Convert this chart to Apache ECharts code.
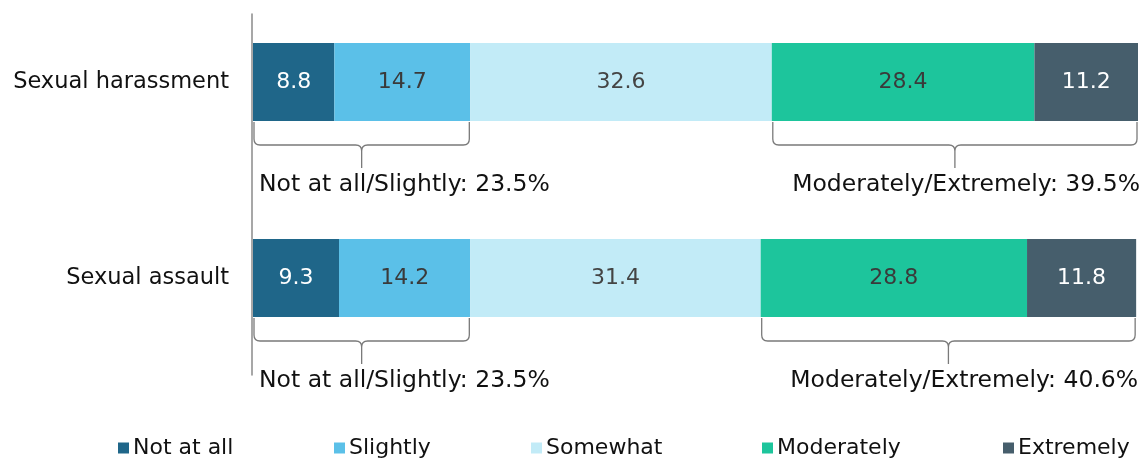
<!DOCTYPE html>
<html>
<head>
<meta charset="utf-8">
<title>Sexual harassment / assault</title>
<script src="https://cdn.jsdelivr.net/npm/echarts@6/dist/echarts.min.js"></script>
<style>
  html, body { margin: 0; padding: 0; background: #fff; }
  #chart { width: 1143px; height: 459px; }
</style>
</head>
<body>
<div id="chart"></div>
<script>
// data
var categories = ['Sexual harassment', 'Sexual assault'];
var seriesNames = ['Not at all', 'Slightly', 'Somewhat', 'Moderately', 'Extremely'];
var notAtAll = [8.8, 9.3];
var slightly = [14.7, 14.2];
var somewhat = [32.6, 31.4];
var moderately = [28.4, 28.8];
var extremely = [11.2, 11.8];
var lowTotals = ['23.5%', '23.5%'];
var highTotals = ['39.5%', '40.6%'];

var values = [notAtAll, slightly, somewhat, moderately, extremely];
var colors = ['#1f6689', '#5bc0e8', '#c2ebf7', '#1dc59c', '#465e6c'];
var labelColors = ['#ffffff', '#3a3a3a', '#444444', '#3a3a3a', '#ffffff'];
var FONT = '"DejaVu Sans", sans-serif';

// braces: [category index, start, end]
var braces = [];
var braceText = [];
var braceSide = [];
categories.forEach(function (c, i) {
  var low = notAtAll[i] + slightly[i];
  var high = low + somewhat[i];
  var total = high + moderately[i] + extremely[i];
  braces.push([i, 0, low]);
  braceText.push('Not at all/Slightly: ' + lowTotals[i]);
  braceSide.push('left');
  braces.push([i, high, total]);
  braceText.push('Moderately/Extremely: ' + highTotals[i]);
  braceSide.push('right');
});

var chart = echarts.init(document.getElementById('chart'));

var barSeries = seriesNames.map(function (name, k) {
  return {
    name: name,
    type: 'bar',
    stack: 'all',
    barWidth: 78,
    xAxisIndex: 0,
    yAxisIndex: 0,
    itemStyle: { color: colors[k] },
    label: {
      show: true,
      position: 'inside',
      color: labelColors[k],
      fontFamily: FONT,
      fontSize: 22,
      formatter: function (p) { return p.value.toFixed(1); }
    },
    data: values[k]
  };
});

var braceSeries = {
  type: 'custom',
  xAxisIndex: 0,
  yAxisIndex: 0,
  silent: true,
  clip: false,
  renderItem: function (params, api) {
    var i = params.dataIndex;
    var cat = api.value(0);
    var a = api.coord([api.value(1), cat]);
    var b = api.coord([api.value(2), cat]);
    var x0 = a[0] + 1, x1 = b[0] - 1;
    var yb = a[1] + 40;
    var yH = yb + 23, yTip = yb + 46, r = 6;
    var xm = (x0 + x1) / 2;
    var d = 'M' + x0 + ',' + yb +
      ' L' + x0 + ',' + (yH - r) +
      ' Q' + x0 + ',' + yH + ' ' + (x0 + r) + ',' + yH +
      ' L' + (xm - r) + ',' + yH +
      ' Q' + xm + ',' + yH + ' ' + xm + ',' + (yH + r) +
      ' L' + xm + ',' + yTip +
      ' M' + xm + ',' + (yH + r) +
      ' Q' + xm + ',' + yH + ' ' + (xm + r) + ',' + yH +
      ' L' + (x1 - r) + ',' + yH +
      ' Q' + x1 + ',' + yH + ' ' + x1 + ',' + (yH - r) +
      ' L' + x1 + ',' + yb;
    var left = braceSide[i] === 'left';
    return {
      type: 'group',
      children: [
        {
          type: 'path',
          shape: { pathData: d },
          style: { fill: null, stroke: '#7a7a7a', lineWidth: 1.3 }
        },
        {
          type: 'text',
          style: {
            text: braceText[i],
            x: left ? x0 + 5 : x1 + 3,
            y: yb + 63,
            align: left ? 'left' : 'right',
            verticalAlign: 'middle',
            font: '23.5px ' + FONT,
            fill: '#111111'
          }
        }
      ]
    };
  },
  data: braces
};

// one legend per entry so the spacing matches the reference
var legendLefts = [113, 329, 526, 757, 998];
var legends = seriesNames.map(function (name, k) {
  return {
    data: [name],
    left: legendLefts[k],
    top: 432,
    icon: 'rect',
    itemWidth: 11,
    itemHeight: 11,
    itemGap: 4,
    textStyle: { fontFamily: FONT, fontSize: 22, color: '#111111', padding: [0, 0, 0, -1] }
  };
});

chart.setOption({
  animation: false,
  backgroundColor: '#ffffff',
  grid: [
    { left: 253, right: 5, top: 82, bottom: 181 },
    { left: 252, right: 5, top: 14, bottom: 84 }
  ],
  legend: legends,
  xAxis: [
    { type: 'value', gridIndex: 0, min: 0, max: 95.7, show: false },
    { type: 'value', gridIndex: 1, min: 0, max: 1, show: false }
  ],
  yAxis: [
    {
      type: 'category',
      gridIndex: 0,
      data: categories,
      inverse: true,
      boundaryGap: false,
      axisLine: { show: false },
      axisTick: { show: false },
      splitLine: { show: false },
      axisLabel: { fontFamily: FONT, fontSize: 22.5, color: '#111111', margin: 24 }
    },
    {
      type: 'category',
      gridIndex: 1,
      data: [''],
      axisLine: { show: true, lineStyle: { color: '#8a8a8a', width: 1.5 } },
      axisTick: { show: false },
      axisLabel: { show: false }
    }
  ],
  series: barSeries.concat([braceSeries])
});
</script>
</body>
</html>
